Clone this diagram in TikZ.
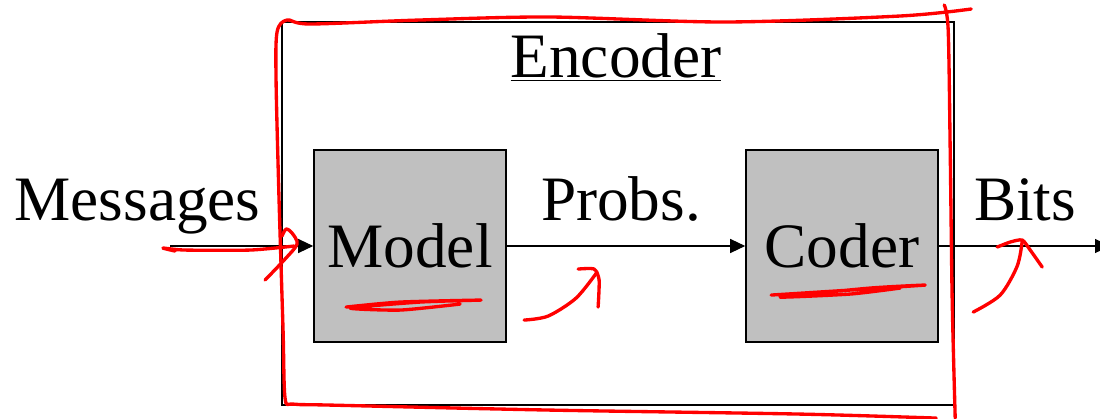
\documentclass[tikz,border=0pt]{standalone}
\usepackage{fontspec}
\newfontfamily\slidefont{LiberationSerif}[Extension=.ttf, UprightFont=*-Regular]
\usetikzlibrary{arrows.meta}
\definecolor{silver}{RGB}{192,192,192}
\tikzset{
  every node/.style={font=\slidefont\fontsize{36}{40}\selectfont},
  block/.style={draw, fill=silver, line width=0.9pt, minimum size=3.84cm, inner sep=0pt},
  flow/.style={-{Triangle[length=3mm,width=2.8mm]}, line width=0.7pt},
  scribble/.style={red, line width=1.9pt, line cap=round, line join=round}
}

\begin{document}
\begin{tikzpicture} % encoder with pen marks
\useasboundingbox (0,0) rectangle (22,8.36);
\node[draw, line width=0.9pt, minimum width=13.44cm, minimum height=7.66cm, inner sep=0pt] (encoder) at (12.36,4.09) {};
\node[anchor=base] (title) at (12.32,6.82) {\underline{Encoder}};

\node[block] (model) at (8.2,3.44) {Model};
\node[block] (coder) at (16.84,3.44) {Coder};
\coordinate (in) at (3.4,3.44);
\coordinate (out) at (22.2,3.44);

\node[anchor=base] (messages) at (2.75,3.96) {Messages};
\node[anchor=base] (probs) at (12.42,3.96) {Probs.};
\node[anchor=base] (bits) at (20.5,3.96) {Bits};

\draw[flow] (in) -- (model);
\draw[flow] (model) -- (coder);
\draw[flow] (coder) -- (out);

% red pen, in pixels of the slide
\begin{scope}[x=0.02cm, y=-0.02cm, yshift=8.36cm, scribble]
\draw plot[smooth, tension=0.5] coordinates {(971,9) (900,16) (725,22) (550,17) (420,20) (310,24) (287,20) (277,32) (276,80) (279,200) (283,330) (285,398) (293,404) (330,405) (550,410) (800,414) (936,418)};
\draw plot[smooth] coordinates {(944,5) (948,30) (950,150) (952,300) (955,418)};
\draw plot[smooth, tension=0.4] coordinates {(175,251) (163,248) (185,250) (250,250) (294,246)};
\draw plot[smooth, tension=0.5] coordinates {(282,236) (286,229) (292,233) (297,244) (285,259) (265,280)};
\draw plot[smooth] coordinates {(524,320) (548,316) (576,298) (597,272)};
\draw plot[smooth, tension=0.4] coordinates {(578,269) (594,269) (599,280) (598,307)};
\draw plot[smooth] coordinates {(973,312) (1000,295) (1017,266) (1022,241)};
\draw plot[smooth, tension=0.4] coordinates {(997,247) (1010,242) (1022,240) (1030,250) (1042,267)};
\draw plot[smooth, tension=0.4] coordinates {(346,307) (400,302) (481,300) (420,302) (350,308) (400,310) (460,304)};
\draw plot[smooth, tension=0.4] coordinates {(771,295) (850,290) (925,285) (870,288) (780,297) (850,294) (900,288)};
\end{scope}
\end{tikzpicture}
\end{document}
